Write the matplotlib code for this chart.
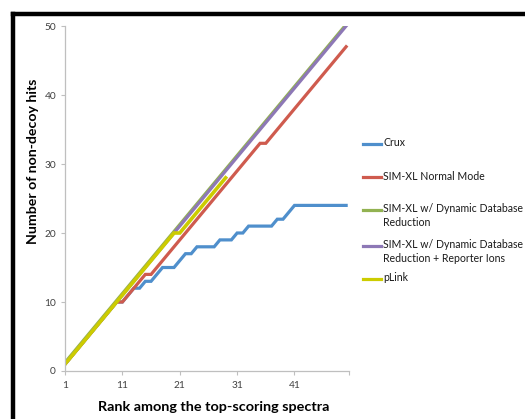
import matplotlib
matplotlib.use("Agg")
import matplotlib.pyplot as plt
import matplotlib.transforms as mtransforms
from matplotlib.lines import Line2D

plt.rcParams['font.family'] = ['Lato', 'DejaVu Sans']

ranks = list(range(1, 51))

crux = [1, 2, 3, 4, 5, 6, 7, 8, 9, 10,
        10, 11, 12, 12, 13, 13, 14, 15, 15, 15,
        16, 17, 17, 18, 18, 18, 18, 19, 19, 19,
        20, 20, 21, 21, 21, 21, 21, 22, 22, 23,
        24, 24, 24, 24, 24, 24, 24, 24, 24, 24]

simxl_normal = [1, 2, 3, 4, 5, 6, 7, 8, 9, 10,
                10, 11, 12, 13, 14, 14, 15, 16, 17, 18,
                19, 20, 21, 22, 23, 24, 25, 26, 27, 28,
                29, 30, 31, 32, 33, 33, 34, 35, 36, 37,
                38, 39, 40, 41, 42, 43, 44, 45, 46, 47]

simxl_ddr = [1, 2, 3, 4, 5, 6, 7, 8, 9, 10,
             11, 12, 13, 14, 15, 16, 17, 18, 19, 20,
             21, 22, 23, 24, 25, 26, 27, 28, 29, 30,
             31, 32, 33, 34, 35, 36, 37, 38, 39, 40,
             41, 42, 43, 44, 45, 46, 47, 48, 49, 50]

simxl_ddr_reporter = [1, 2, 3, 4, 5, 6, 7, 8, 9, 10,
                      11, 12, 13, 14, 15, 16, 17, 18, 19, 20,
                      21, 22, 23, 24, 25, 26, 27, 28, 29, 30,
                      31, 32, 33, 34, 35, 36, 37, 38, 39, 40,
                      41, 42, 43, 44, 45, 46, 47, 48, 49, 50]

plink_ranks = list(range(1, 30))
plink = [1, 2, 3, 4, 5, 6, 7, 8, 9, 10,
         11, 12, 13, 14, 15, 16, 17, 18, 19, 20,
         20, 21, 22, 23, 24, 25, 26, 27, 28]

series_labels = ["Crux", "SIM-XL Normal Mode",
                 "SIM-XL w/ Dynamic Database\nReduction",
                 "SIM-XL w/ Dynamic Database\nReduction + Reporter Ions",
                 "pLink"]
colors = ["#4f8fcc", "#cf5b4e", "#92b251", "#8d78b6", "#cccc00"]

x_ticks = [1, 11, 21, 31, 41, 50.5]
x_ticklabels = ["1", "11", "21", "31", "41", ""]
y_ticks = [0, 10, 20, 30, 40, 50]

W, H = 525, 419
fig = plt.figure(figsize=(W / 100, H / 100), dpi=100)
ax = fig.add_axes([65 / W, 1 - 371 / H, (349 - 65) / W, (371 - 26) / H])

lw = 2.3
ax.plot(ranks, crux, color=colors[0], lw=lw, solid_joinstyle='miter')
ax.plot(ranks, simxl_normal, color=colors[1], lw=lw, solid_joinstyle='miter')
shift = mtransforms.offset_copy(ax.transData, fig=fig, x=-0.7, y=0.7, units='dots')
ax.plot(ranks, simxl_ddr, color=colors[2], lw=lw, transform=shift)
ax.plot(ranks, simxl_ddr_reporter, color=colors[3], lw=lw)
ax.plot(plink_ranks, plink, color=colors[4], lw=lw + 0.3, solid_joinstyle='miter')

ax.set_xlim(1, 50.5)
ax.set_ylim(0, 50)
ax.set_xticks(x_ticks)
ax.set_xticklabels(x_ticklabels)
ax.set_yticks(y_ticks)
for s in ("top", "right"):
    ax.spines[s].set_visible(False)
for s in ("left", "bottom"):
    ax.spines[s].set_color("#bfbfbf")
    ax.spines[s].set_linewidth(0.9)
ax.tick_params(colors="#bfbfbf", labelcolor="#404040", labelsize=7.3,
               length=3, width=0.8, direction="out")
ax.tick_params(axis="x", pad=4)

fig.text(33 / W, 1 - 161 / H, "Number of non-decoy hits", rotation=90,
         ha="center", va="center", fontsize=10.2, fontweight="bold", color="#000000")
fig.text(214 / W, 1 - 407 / H, "Rank among the top-scoring spectra",
         ha="center", va="center", fontsize=10.4, fontweight="bold", color="#000000")

# legend entries
leg_y = [144, 177.5, 210, 246, 279]
for lab, col, yy in zip(series_labels, colors, leg_y):
    yf = 1 - yy / H
    fig.add_artist(Line2D([363 / W, 381 / W], [yf, yf], color=col, lw=2.3,
                          transform=fig.transFigure))
    fig.text(383 / W, 1 - (yy - 7) / H, lab, ha="left", va="top", fontsize=7.6,
             color="#1a1a1a", linespacing=1.35)

# black frame on the left and top
fig.add_artist(Line2D([13 / W, 13 / W], [0, 1 - 14 / H], color="black", lw=3.2,
                      transform=fig.transFigure, solid_capstyle='projecting'))
fig.add_artist(Line2D([13 / W, 1], [1 - 14 / H, 1 - 14 / H], color="black", lw=3.2,
                      transform=fig.transFigure, solid_capstyle='projecting'))

fig.savefig("out.png", dpi=100)
